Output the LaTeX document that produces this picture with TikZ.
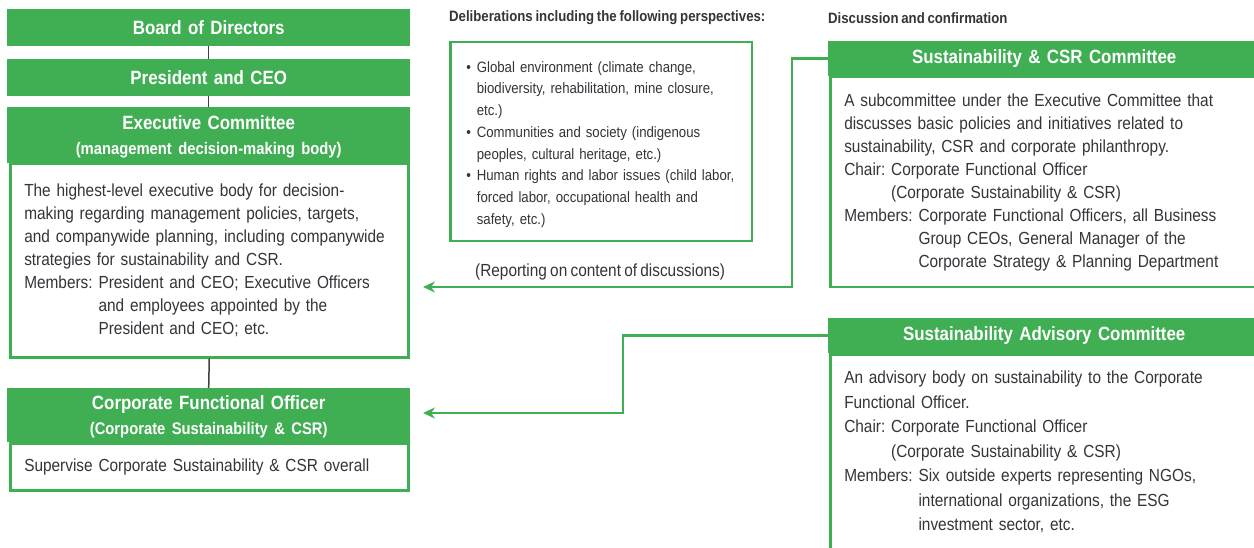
\documentclass[tikz,border=0pt]{standalone}
\usepackage{fontspec}
\setmainfont{Liberation Sans}[FakeStretch=0.88,WordSpace=0.75]
\usetikzlibrary{arrows.meta,positioning}
\definecolor{csrgreen}{RGB}{64,174,82}
\definecolor{csrtext}{RGB}{52,52,58}
\definecolor{csrlink}{RGB}{64,64,64}
\newcommand\hdsize{\fontsize{19.2}{22}\selectfont}
\newcommand\subsize{\fontsize{16.8}{21}\selectfont}
\newcommand\bodysize{\fontsize{17.5}{23}\selectfont}
\newcommand\advsize{\fontsize{17.5}{24.5}\selectfont}
\newcommand\midsize{\fontsize{15}{21.7}\selectfont}
\newcommand\capsize{\fontsize{15}{18}\selectfont}
\newcommand\hang[1]{\hphantom{#1}}
\newcommand\bul{\hspace*{2pt}\textbullet\hspace{6pt}}
\frenchspacing
\tikzset{
  head/.style={fill=csrgreen, text=white, font=\hdsize\bfseries, inner sep=0pt,
    align=center, anchor=north west, minimum height=37pt},
  bodybox/.style={draw=csrgreen, line width=2.5pt, fill=white, text=csrtext,
    font=\bodysize, inner xsep=14pt, inner ysep=0pt, align=left, anchor=north west},
  caption/.style={text=csrtext, font=\capsize\bfseries, inner sep=0pt, anchor=west},
  link/.style={draw=csrlink, line width=1.5pt},
  report/.style={draw=csrgreen, line width=2.5pt, -{Stealth[length=12pt,width=11pt]}}
}
\begin{document}
\begin{tikzpicture}[x=1pt,y=-1pt]
\useasboundingbox (0,0) rectangle (1254,548);
% left column
\node[head, text width=403pt] (board) at (7,9) {Board of Directors};
\node[head, text width=403pt] (ceo) at (7,59) {President and CEO};
\node[bodybox, text width=370pt, minimum height=193pt] (execbody) at (9,163)
  {The highest-level executive body for decision-\\
   making regarding management policies, targets,\\
   and companywide planning, including companywide\\
   strategies for sustainability and CSR.\\
   Members: President and CEO; Executive Officers\\
   \hang{Members: }and employees appointed by the\\
   \hang{Members: }President and CEO; etc.};
\node[head, text width=403pt, minimum height=56pt] (exec) at (7,107)
  {\rule{0pt}{17pt}Executive Committee\\[3pt]{\subsize(management decision-making body)}};
\node[bodybox, text width=370pt, minimum height=47pt] (cfobody) at (9,442)
  {Supervise Corporate Sustainability \& CSR overall};
\node[head, text width=403pt, minimum height=54pt] (cfo) at (7,388)
  {\rule{0pt}{17pt}Corporate Functional Officer\\[3pt]{\subsize(Corporate Sustainability \& CSR)}};
\draw[link] (board.south) -- (ceo.north);
\draw[link] (ceo.south) -- (exec.north);
\draw[link] (execbody.south) -- (cfo.north);
% perspectives
\node[caption] (deltitle) at (449,18) {Deliberations including the following perspectives:};
\node[bodybox, font=\midsize, text width=273.5pt, minimum height=199pt] (persp) at (449,41)
  {\rule{0pt}{16pt}\bul Global environment (climate change,\\
   \hang{\bul}biodiversity, rehabilitation, mine closure,\\
   \hang{\bul}etc.)\\
   \bul Communities and society (indigenous\\
   \hang{\bul}peoples, cultural heritage, etc.)\\
   \bul Human rights and labor issues (child labor,\\
   \hang{\bul}forced labor, occupational health and\\
   \hang{\bul}safety, etc.)};
% right column
\node[caption] (disctitle) at (828,18) {Discussion and confirmation};
\node[bodybox, text width=401pt, minimum height=210pt] (scbody) at (829,76)
  {A subcommittee under the Executive Committee that\\
   discusses basic policies and initiatives related to\\
   sustainability, CSR and corporate philanthropy.\\
   Chair: Corporate Functional Officer\\
   \hang{Chair: }(Corporate Sustainability \& CSR)\\
   Members: Corporate Functional Officers, all Business\\
   \hang{Members: }Group CEOs, General Manager of the\\
   \hang{Members: }Corporate Strategy \& Planning Department};
\node[head, text width=432pt, minimum height=35pt] (schead) at (828,41) {Sustainability \& CSR Committee};
\node[bodybox, font=\advsize, text width=401pt, inner ysep=17pt, text depth=220pt] (sabody) at (829,353)
  {An advisory body on sustainability to the Corporate\\
   Functional Officer.\\
   Chair: Corporate Functional Officer\\
   \hang{Chair: }(Corporate Sustainability \& CSR)\\
   Members: Six outside experts representing NGOs,\\
   \hang{Members: }international organizations, the ESG\\
   \hang{Members: }investment sector, etc.};
\node[head, text width=432pt, minimum height=35pt] (sahead) at (828,318) {Sustainability Advisory Committee};
% reporting lines
\coordinate (reportend) at (423,287);
\coordinate (adviseend) at (423,413);
\draw[report] (schead.west) -- ++(-36,0) |- (reportend)
  node[pos=0.76, above=6pt, caption, anchor=south, font=\fontsize{17.5}{18}\selectfont] {(Reporting on content of discussions)};
\draw[report] (sahead.west) -- ++(-205,0) |- (adviseend);
\end{tikzpicture}
\end{document}
